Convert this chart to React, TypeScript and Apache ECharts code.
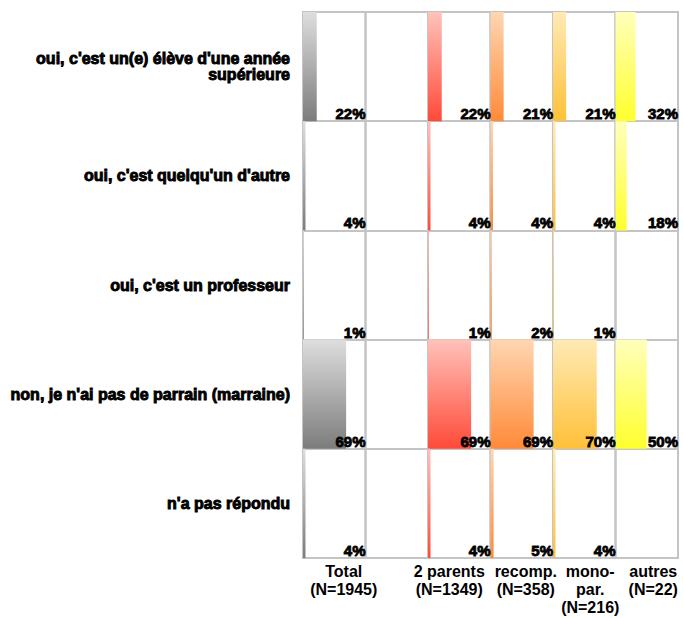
import React, { useEffect, useRef } from "react";
import * as echarts from "echarts";

const rowLabels = [
  "oui, c'est un(e) élève d'une année\nsupérieure",
  "oui, c'est quelqu'un d'autre",
  "oui, c'est un professeur",
  "non, je n'ai pas de parrain (marraine)",
  "n'a pas répondu",
];

const columnLabels = [
  "Total\n(N=1945)",
  "",
  "2 parents\n(N=1349)",
  "recomp.\n(N=358)",
  "mono-\npar.\n(N=216)",
  "autres\n(N=22)",
];

const totalValues = [22, 4, 1, 69, 4];
const blankValues: number[] = [];
const twoParentsValues = [22, 4, 1, 69, 4];
const recompValues = [21, 4, 2, 69, 5];
const monoParValues = [21, 4, 1, 70, 4];
const autresValues = [32, 18, 0, 50, 0];

const columnValues = [totalValues, blankValues, twoParentsValues, recompValues, monoParValues, autresValues];

const columnColors: (string[] | null)[] = [
  ["#dedede", "#7c7c7c"],
  null,
  ["#ffc2ba", "#ff4a38"],
  ["#ffd6b2", "#ff8a38"],
  ["#ffeab4", "#ffc038"],
  ["#ffffbc", "#ffff2e"],
];

// horizontal shift of each column caption relative to its panel centre (px)
const captionShift = [9.5, 0, -10, 4, 6, 6.5];

const FONT = "Liberation Sans, Arial, sans-serif";

export default function App() {
  const ref = useRef<HTMLDivElement>(null);

  useEffect(() => {
    if (!ref.current) return;
    const chart = echarts.init(ref.current, null, { renderer: "svg" });

    const panelLeft = 303;
    const panelWidth = 62.5;
    const top = 12;
    const height = 546;

    const grids: any[] = [];
    const xAxes: any[] = [];
    const yAxes: any[] = [];
    const series: any[] = [];

    columnLabels.forEach((col, i) => {
      const dx = captionShift[i];
      grids.push({
        left: panelLeft + i * panelWidth,
        width: panelWidth,
        top,
        height,
        show: true,
        borderColor: "#c4c4c4",
        borderWidth: 2,
        backgroundColor: "transparent",
        containLabel: false,
        outerBoundsMode: "none",
      });
      xAxes.push({
        gridIndex: i,
        type: "value",
        min: 0,
        max: 100,
        axisLine: { show: false },
        axisTick: { show: false },
        axisLabel: { show: false },
        splitLine: { show: false },
        name: col,
        nameLocation: "middle",
        nameGap: 4,
        nameTextStyle: {
          fontFamily: FONT,
          fontWeight: "bold",
          fontSize: 16,
          lineHeight: 18,
          color: "#000",
          verticalAlign: "top",
          align: "center",
          padding: dx >= 0 ? [0, 0, 0, 2 * dx] : [0, -2 * dx, 0, 0],
        },
      });
      yAxes.push({
        gridIndex: i,
        type: "category",
        inverse: true,
        data: rowLabels,
        axisLine: { show: false },
        axisTick: { show: false },
        splitLine: { show: true, lineStyle: { color: "#c4c4c4", width: 2 } },
        axisLabel: {
          show: i === 0,
          margin: 13,
          fontFamily: FONT,
          fontWeight: "bold",
          fontSize: 16,
          lineHeight: 16.5,
          color: "#000",
          textBorderColor: "#000",
          textBorderWidth: 0.9,
          align: "right",
        },
      });
      const vals = columnValues[i];
      const colors = columnColors[i];
      if (vals.length && colors) {
        series.push({
          type: "bar",
          xAxisIndex: i,
          yAxisIndex: i,
          data: vals,
          barWidth: "100%",
          barGap: "-100%",
          itemStyle: {
            color: new echarts.graphic.LinearGradient(0, 0, 0, 1, [
              { offset: 0, color: colors[0] },
              { offset: 1, color: colors[1] },
            ]),
          },
          silent: true,
          z: 2,
        });
        series.push({
          type: "bar",
          xAxisIndex: i,
          yAxisIndex: i,
          data: vals.map(() => 100),
          barWidth: "100%",
          barGap: "-100%",
          itemStyle: { color: "rgba(0,0,0,0)" },
          silent: true,
          z: 3,
          label: {
            show: true,
            position: "insideBottomRight",
            distance: 0,
            formatter: (p: any) => (vals[p.dataIndex] > 0 ? vals[p.dataIndex] + "%" : ""),
            fontFamily: FONT,
            fontWeight: "bold",
            fontSize: 15,
            color: "#000",
            textBorderColor: "#111",
            textBorderWidth: 0.9,
          },
        });
      }
    });

    chart.setOption({
      animation: false,
      backgroundColor: "#fff",
      grid: grids,
      xAxis: xAxes,
      yAxis: yAxes,
      series,
    });

    return () => chart.dispose();
  }, []);

  return (
    <div
      ref={ref}
      style={{ position: "fixed", left: 0, top: 0, width: 683, height: 618 }}
    />
  );
}
